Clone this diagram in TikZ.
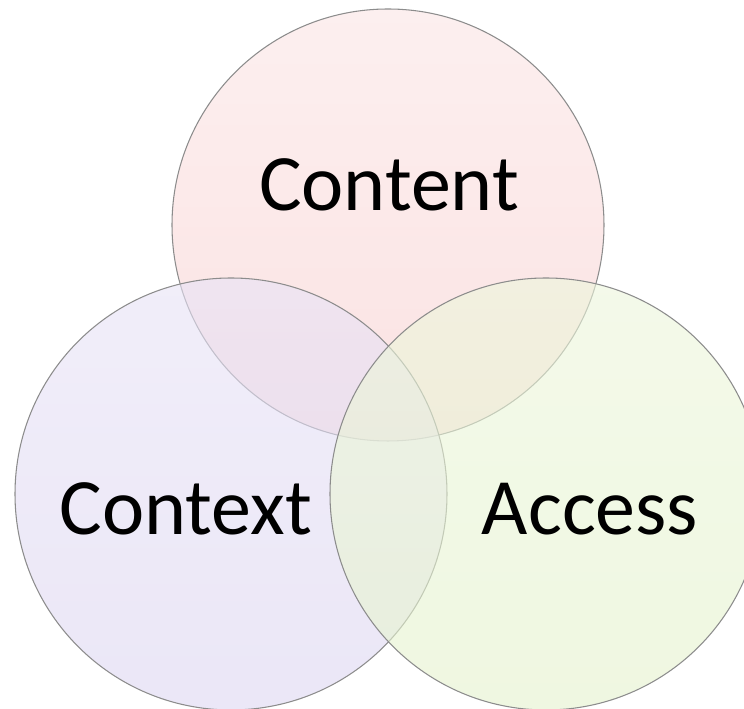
\documentclass[tikz,border=0pt]{standalone}
\usepackage{fontspec}
\setmainfont{Carlito}
\definecolor{pinkc}{RGB}{248,208,208}
\definecolor{lavc}{RGB}{222,215,242}
\definecolor{greenc}{RGB}{229,243,205}
\tikzstyle{ring}=[shape=circle,minimum size=8.64cm,inner sep=0,draw=gray!90,line width=0.6pt,fill opacity=0.6]
\tikzstyle{word}=[anchor=base,inner sep=0,font=\fontsize{45.5}{54}\selectfont]

\begin{document}
\begin{tikzpicture}
\useasboundingbox (0,0) rectangle (14.88,14.18);
\fill[white] (0,0) rectangle (14.88,14.18);

\node[ring,top color=pinkc!55,bottom color=pinkc] (content) at (7.76,9.68) {};
\node[ring,top color=lavc!70,bottom color=lavc] (context) at (4.62,4.30) {};
\node[ring,top color=greenc!70,bottom color=greenc] (access) at (10.92,4.30) {};

\node[word] (contentlbl) at (7.78,9.96) {Content};
\node[word] (contextlbl) at (3.72,3.48) {Context};
\node[word] (accesslbl) at (11.80,3.48) {Access};
\end{tikzpicture}
\end{document}
